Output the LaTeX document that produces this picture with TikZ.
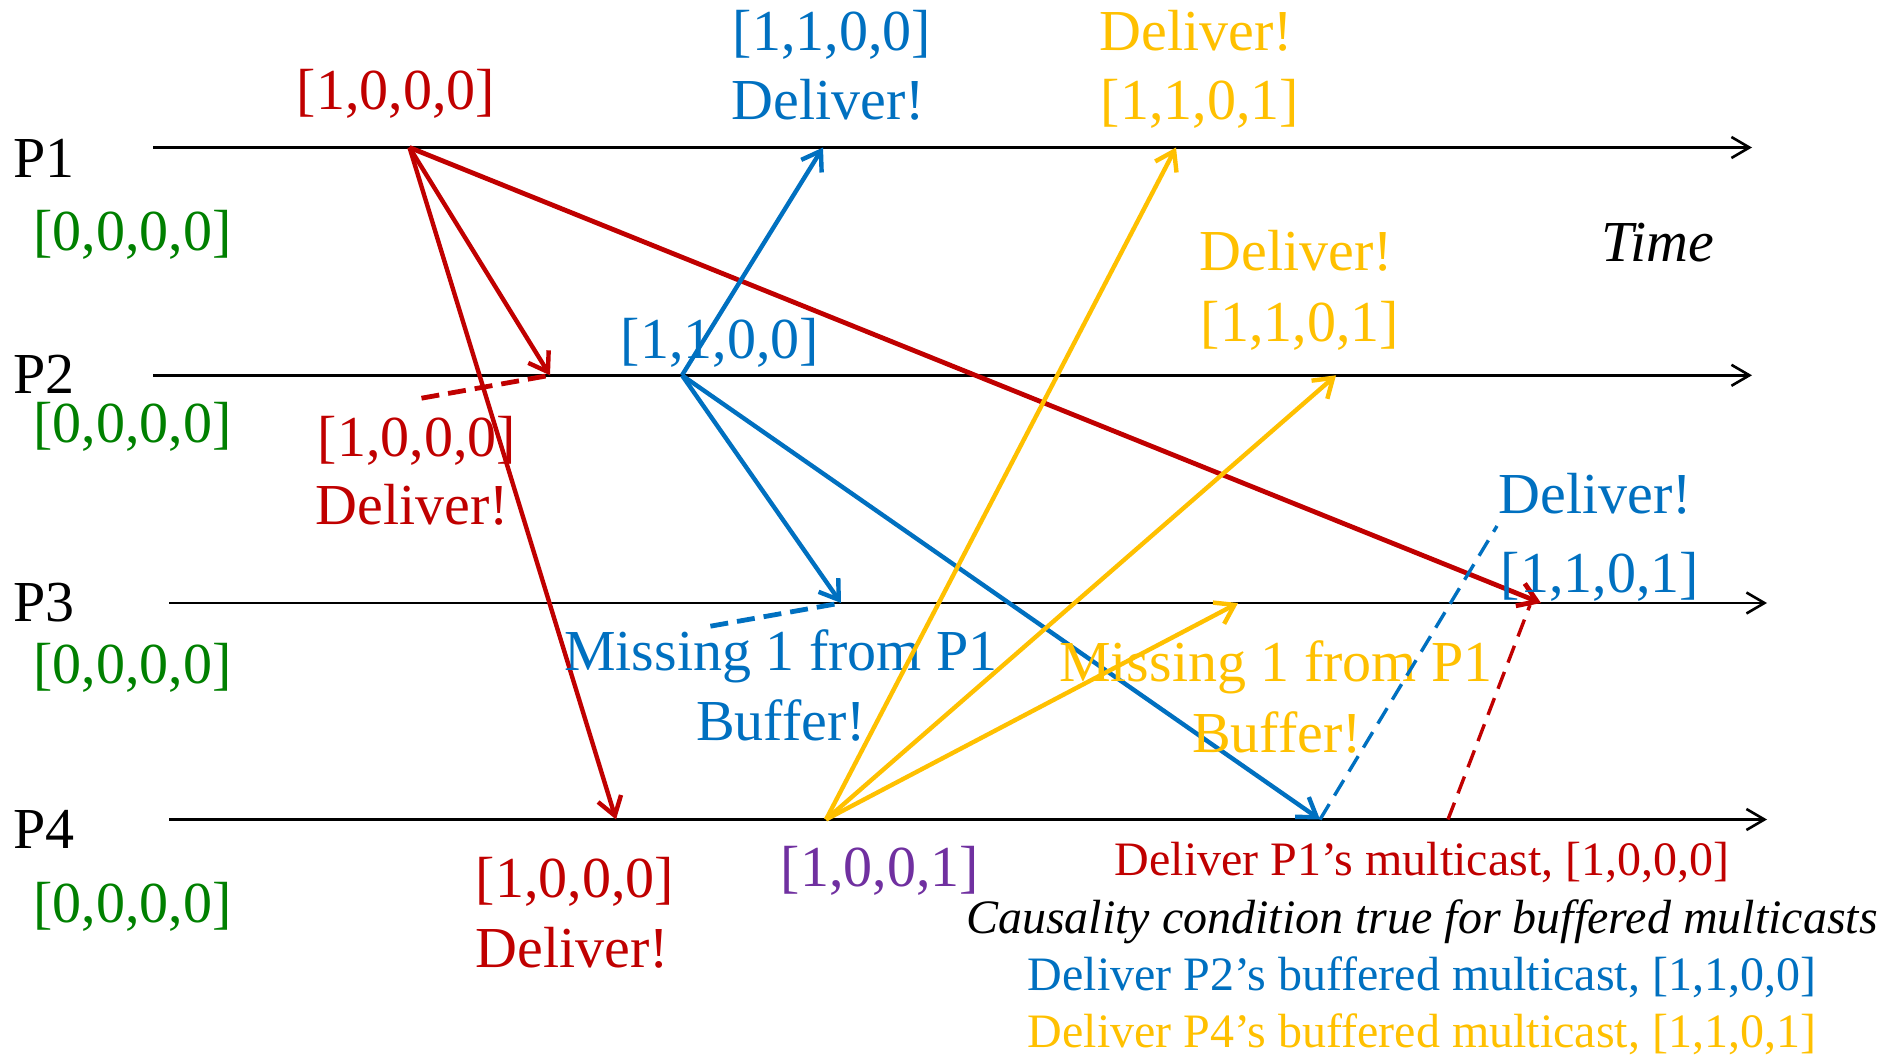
\documentclass[tikz,border=0pt]{standalone}
\usepackage{fontspec}
\setmainfont{Liberation Serif}
\usetikzlibrary{arrows.meta}
\definecolor{mred}{HTML}{C00000}
\definecolor{mblue}{HTML}{0070C0}
\definecolor{myellow}{HTML}{FFC000}
\definecolor{mgreen}{HTML}{008000}
\definecolor{mpurple}{HTML}{7030A0}
\begin{document}
\begin{tikzpicture}[x=0.5pt,y=-0.5pt,
  lbl/.style={inner sep=0pt, anchor=base, font=\fontsize{29}{34}\selectfont},
  lblw/.style={lbl, anchor=base west},
  note/.style={inner sep=0pt, anchor=base, font=\fontsize{24}{28}\selectfont},
  timeline/.style={line width=1.3pt, -{Straight Barb[length=9pt,width=10.5pt]}},
  msg/.style={line width=2.2pt, -{Straight Barb[length=9pt,width=12pt]}},
  link/.style={line width=2.4pt, dash pattern=on 9pt off 4.5pt},
  thinlink/.style={line width=1.7pt, dash pattern=on 9pt off 5pt},
]
\useasboundingbox (0,0) rectangle (1880,1059);

% process time lines
\coordinate (p1s) at (153,147.5);  \coordinate (p1e) at (1752,147.5);
\coordinate (p2s) at (153,375.3);  \coordinate (p2e) at (1752,375.3);
\coordinate (p3s) at (169,603);    \coordinate (p3e) at (1767,603);
\coordinate (p4s) at (169,819.5);  \coordinate (p4e) at (1767,819.5);
\foreach \p in {1,2,3,4} \draw[timeline] (p\p s) -- (p\p e);

% process names and initial vector clocks
\node[lblw] (n1) at (13,177.5) {P1};
\node[lblw] (n2) at (13,393.8) {P2};
\node[lblw] (n3) at (13,621.8) {P3};
\node[lblw] (n4) at (13,848.8) {P4};
\node[lblw, text=mgreen] (v1) at (33,250.8) {[0,0,0,0]};
\node[lblw, text=mgreen] (v2) at (33,442.9) {[0,0,0,0]};
\node[lblw, text=mgreen] (v3) at (33,683.5) {[0,0,0,0]};
\node[lblw, text=mgreen] (v4) at (33,922) {[0,0,0,0]};

\node[lblw] (time) at (1601,262) {\itshape Time};

% events
\coordinate (rs) at (409.5,147.5);
\coordinate (r2) at (550,375.3);
\coordinate (r4) at (616,819.5);
\coordinate (r3) at (1541,603);
\coordinate (bs) at (682,375.3);
\coordinate (b1) at (823,147.5);
\coordinate (b3) at (841,603);
\coordinate (b4) at (1320,819.5);
\coordinate (ys) at (826,819.5);
\coordinate (y1) at (1176,147.5);
\coordinate (y2) at (1336,375.3);
\coordinate (y3) at (1238,603);

% P1's multicast
\draw[msg, mred] (rs) -- (r2);
\draw[msg, mred] (rs) -- (r4);
\draw[msg, mred, line width=2.4pt] (rs) -- (r3);
\node[lbl, text=mred] (rtop) at (396,110) {[1,0,0,0]};
\node[lbl, text=mred] (r2v) at (417,456.4) {[1,0,0,0]};
\node[lbl, text=mred] (r2d) at (412,524) {Deliver!};
\coordinate (r2l) at (421.5,398.2);
\draw[link, mred] (r2l) -- (r2);
\node[lbl, text=mred] (r4v) at (575,897.7) {[1,0,0,0]};
\node[lbl, text=mred] (r4d) at (572,967.6) {Deliver!};

% P2's multicast
\draw[msg, mblue] (bs) -- (b1);
\draw[msg, mblue] (bs) -- (b3);
\draw[msg, mblue] (bs) -- (b4);
\node[lbl, text=mblue] (bsv) at (720,358.4) {[1,1,0,0]};
\node[lbl, text=mblue] (b1v) at (832,50.7) {[1,1,0,0]};
\node[lbl, text=mblue] (b1d) at (828,120) {Deliver!};
\node[lbl, text=mblue] (b3m) at (781,670) {Missing 1 from P1};
\node[lbl, text=mblue] (b3b) at (781,740.9) {Buffer!};
\coordinate (b3l) at (710.4,626.2);
\draw[link, mblue] (b3l) -- (b3);

% P4's multicast
\draw[msg, myellow] (ys) -- (y1);
\draw[msg, myellow] (ys) -- (y2);
\draw[msg, myellow] (ys) -- (y3);
\node[lbl, text=myellow] (y1d) at (1196,50.7) {Deliver!};
\node[lbl, text=myellow] (y1v) at (1200,120) {[1,1,0,1]};
\node[lbl, text=myellow] (y2d) at (1296,270.5) {Deliver!};
\node[lbl, text=myellow] (y2v) at (1300,341.5) {[1,1,0,1]};
\node[lbl, text=myellow] (y3m) at (1276,681.8) {Missing 1 from P1};
\node[lbl, text=myellow] (y3b) at (1277,752.7) {Buffer!};
\node[lbl, text=mpurple] (ysv) at (880,886) {[1,0,0,1]};

% deliveries once P1's multicast reaches P3 and P4
\node[lbl, text=mblue] (b4d) at (1595,513.9) {Deliver!};
\node[lbl, text=mblue] (b4v) at (1600,592.4) {[1,1,0,1]};
\coordinate (b4l) at (1497,526);
\draw[thinlink, mblue] (b4) -- (b4l);
\coordinate (r3l) at (1448,819.5);
\coordinate (r3t) at (1530,605);
\draw[thinlink, mred] (r3l) -- (r3t);

\node[note, text=mred] (s1) at (1422,875.8) {Deliver P1’s multicast, [1,0,0,0]};
\node[note] (s2) at (1422,933) {\itshape Causality condition true for buffered multicasts};
\node[note, text=mblue] (s3) at (1422,990.5) {Deliver P2’s buffered multicast, [1,1,0,0]};
\node[note, text=myellow] (s4) at (1422,1047.9) {Deliver P4’s buffered multicast, [1,1,0,1]};
\end{tikzpicture}
\end{document}
